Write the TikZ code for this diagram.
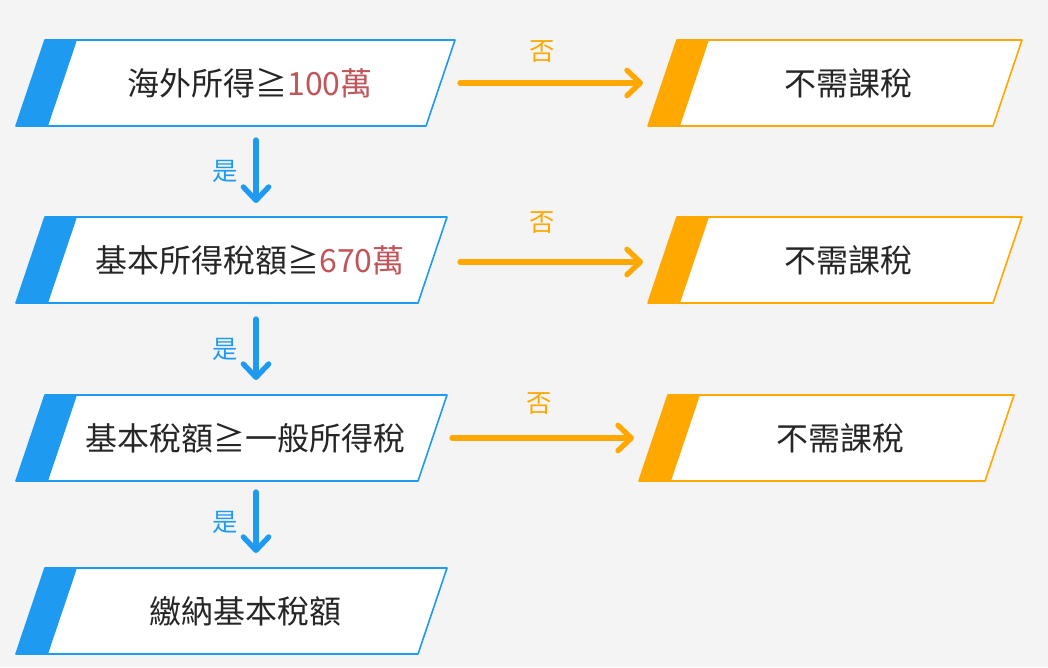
\documentclass[tikz,border=0pt]{standalone}
\usepackage{fontspec}
\setmainfont{Noto Sans CJK TC}
\usetikzlibrary{arrows.meta}
\definecolor{bg}{HTML}{F4F4F4}
\definecolor{cblue}{HTML}{1E9BF0}
\definecolor{corange}{HTML}{FFA800}
\definecolor{cred}{HTML}{C0555A}
\tikzset{
  txt/.style={font=\fontsize{24}{28}\selectfont, text=black!85},
  lab/.style={font=\fontsize{19}{22}\selectfont},
  flow/.style={line width=4pt, line cap=round, -{Straight Barb[length=10pt,width=19pt,line width=4pt,round]}},
}
% \pbox{name}{ytop}{xtl}{xtr}{color}{textx}{text}
\newcommand\pbox[7]{%
  \fill[white] (#3,#2) -- (#4,#2) -- ({#4-29},{#2+86}) -- ({#3-29},{#2+86}) -- cycle;
  \fill[#5] (#3,#2) -- ({#3+32},#2) -- ({#3+3},{#2+86}) -- ({#3-29},{#2+86}) -- cycle;
  \draw[#5, line width=1.2pt, line join=round] (#3,#2) -- (#4,#2) -- ({#4-29},{#2+86}) -- ({#3-29},{#2+86}) -- cycle;
  \node[txt] (#1) at (#6,{#2+43}) {#7};
}
\begin{document}
\begin{tikzpicture}[x=0.75pt,y=-0.75pt]
\fill[bg] (0,0) rectangle (1048,667);
\useasboundingbox (0,0) rectangle (1048,667);
\pbox{a}{40}{45}{455}{cblue}{250}{海外所得≧\textcolor{cred}{100萬}}
\pbox{b}{217}{45}{447}{cblue}{250}{基本所得稅額≧\textcolor{cred}{670萬}}
\pbox{c}{395}{45}{447}{cblue}{245}{基本稅額≧一般所得稅}
\pbox{d}{568}{45}{447}{cblue}{245}{繳納基本稅額}
\pbox{na}{40}{677}{1022}{corange}{848}{不需課稅}
\pbox{nb}{217}{677}{1022}{corange}{848}{不需課稅}
\pbox{nc}{395}{668}{1014}{corange}{840}{不需課稅}
% connector end points
\coordinate (a-s) at (256,140); \coordinate (b-n) at (256,203);
\coordinate (b-s) at (256,319); \coordinate (c-n) at (256,380);
\coordinate (c-s) at (256,492); \coordinate (d-n) at (256,553);
\coordinate (a-e) at (460,83); \coordinate (na-w) at (643,83);
\coordinate (b-e) at (460,262); \coordinate (nb-w) at (643,262);
\coordinate (c-e) at (452,438); \coordinate (nc-w) at (634,438);
\draw[flow,cblue] (a-s) -- node[lab,left=8pt,text=cblue]{是} (b-n);
\draw[flow,cblue] (b-s) -- node[lab,left=8pt,text=cblue]{是} (c-n);
\draw[flow,cblue] (c-s) -- node[lab,left=8pt,text=cblue]{是} (d-n);
\draw[flow,corange] (a-e) -- node[lab,above=10pt,pos=0.45,text=corange]{否} (na-w);
\draw[flow,corange] (b-e) -- node[lab,above=16pt,pos=0.45,text=corange]{否} (nb-w);
\draw[flow,corange] (c-e) -- node[lab,above=12pt,pos=0.48,text=corange]{否} (nc-w);
\end{tikzpicture}
\end{document}
